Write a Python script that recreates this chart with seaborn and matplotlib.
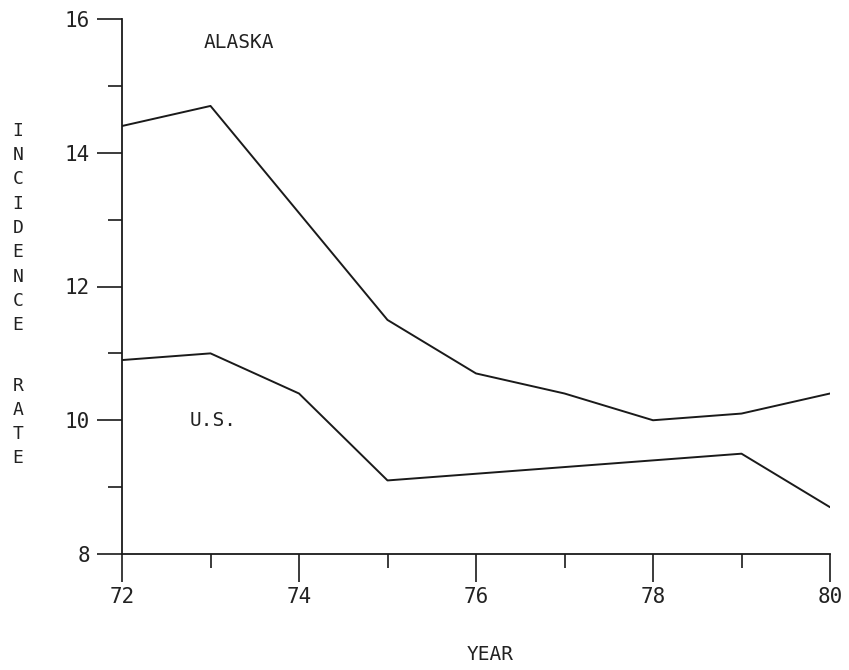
import numpy as np
import pandas as pd
import seaborn as sns
import matplotlib.pyplot as plt
from matplotlib.ticker import MultipleLocator

years = [72, 73, 74, 75, 76, 77, 78, 79, 80]
alaska = [14.4, 14.7, 13.1, 11.5, 10.7, 10.4, 10.0, 10.1, 10.4]
us = [10.9, 11.0, 10.4, 9.1, 9.2, 9.3, 9.4, 9.5, 8.7]

df = pd.DataFrame({
    'year': years * 2,
    'rate': alaska + us,
    'region': ['ALASKA'] * len(years) + ['U.S.'] * len(years),
})

sns.set_style('ticks')
plt.rcParams['font.family'] = ['DejaVu Sans Mono']

fig = plt.figure(figsize=(8.49, 6.70), dpi=100)
ax = fig.add_axes([122 / 849, 1 - 554 / 670, (830 - 122) / 849, (554 - 19) / 670])

sns.lineplot(data=df, x='year', y='rate', hue='region',
             palette=['#1a1a1a', '#1a1a1a'], linewidth=1.4, legend=False, ax=ax)

ax.set_xlim(72, 80)
ax.set_ylim(8, 16)
ax.xaxis.set_major_locator(MultipleLocator(2))
ax.xaxis.set_minor_locator(MultipleLocator(1))
ax.yaxis.set_major_locator(MultipleLocator(2))
ax.yaxis.set_minor_locator(MultipleLocator(1))
ax.tick_params(which='both', width=1.2, color='#1a1a1a',
               labelsize=15, labelcolor='#222222')
ax.tick_params(axis='x', which='major', length=20, pad=4)
ax.tick_params(axis='y', which='major', length=18, pad=5)
ax.tick_params(which='minor', length=10)
sns.despine(ax=ax)
for s in ['left', 'bottom']:
    ax.spines[s].set_linewidth(1.3)
    ax.spines[s].set_color('#1a1a1a')

ax.set_xlabel('')
ax.set_ylabel('')

ax.text(73.32, 15.65, 'ALASKA', fontsize=14, color='#222222',
        ha='center', va='center')
ax.text(73.03, 10.0, 'U.S.', fontsize=14, color='#222222',
        ha='center', va='center')

fig.text(490 / 849, 1 - 655 / 670, 'YEAR', fontsize=14, color='#222222',
         ha='center', va='center')
fig.text(18 / 849, 1 - 228 / 670, '\n'.join('INCIDENCE'), fontsize=13,
         color='#222222', ha='center', va='center', linespacing=1.45)
fig.text(18 / 849, 1 - 422 / 670, '\n'.join('RATE'), fontsize=13,
         color='#222222', ha='center', va='center', linespacing=1.45)

fig.savefig('out.png', dpi=100)
